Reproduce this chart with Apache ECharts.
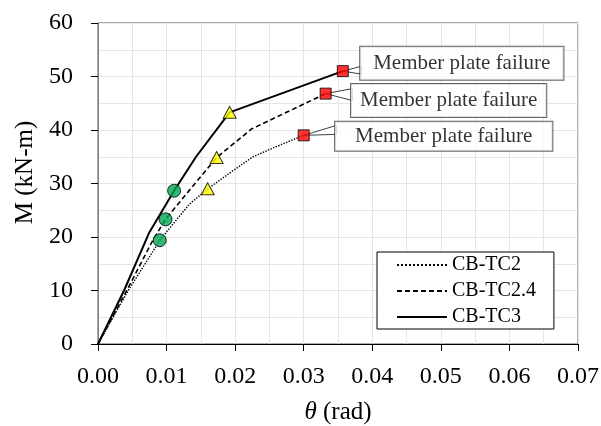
<!DOCTYPE html>
<html>
<head>
<meta charset="utf-8">
<script src="https://cdn.jsdelivr.net/npm/echarts@6/dist/echarts.min.js"></script>
<style>html,body{margin:0;padding:0;background:#fff;}#c{width:601px;height:426px;}</style>
</head>
<body>
<div id="c"></div>
<script>
// Curve data (theta in rad, M in kN-m)
const thetaTC2 = [0, 0.0044, 0.0083, 0.0090, 0.0133, 0.0160, 0.0197, 0.0226, 0.0260, 0.0300];
const momentTC2 = [0, 10, 17.9, 19.4, 26.1, 29.0, 32.4, 35.0, 36.9, 39.0];
const thetaTC24 = [0, 0.0042, 0.0080, 0.00985, 0.0133, 0.0173, 0.0224, 0.0332];
const momentTC24 = [0, 10, 19.4, 23.3, 28.7, 34.85, 40.2, 46.8];
const thetaTC3 = [0, 0.0038, 0.0075, 0.0111, 0.0143, 0.0192, 0.0357];
const momentTC3 = [0, 10, 20.9, 28.65, 35.0, 43.3, 51.0];

// Marker points: [theta, M] for TC2, TC2.4, TC3
const circlePts = [[0.0090, 19.4], [0.00985, 23.3], [0.0111, 28.65]];
const trianglePts = [[0.0160, 29.0], [0.0173, 34.85], [0.0192, 43.3]];
const squarePts = [[0.0300, 39.0], [0.0332, 46.8], [0.0357, 51.0]];
const failureText = 'Member plate failure';

const seriesNames = ['CB-TC2', 'CB-TC2.4', 'CB-TC3'];
const xTicks = [0, 0.01, 0.02, 0.03, 0.04, 0.05, 0.06, 0.07];
const yTicks = [0, 10, 20, 30, 40, 50, 60];

const zip = (a, b) => a.map((v, i) => [v, b[i]]);
const FONT = "'Liberation Serif','Times New Roman',serif";
const CALLOUT_FS = 21;

// callout box layout (offset of box centre from marker, padding, tail span relative to box centre)
const labelLayouts = [
  { offset: [140, 1], padding: [4, 20], tail: [-11, -2] },
  { offset: [123, 7], padding: [6, 9], tail: [-12, 0] },
  { offset: [119, -8], padding: [6, 13], tail: [3, 11] }
];
const mctx = document.createElement('canvas').getContext('2d');
mctx.font = CALLOUT_FS + "px 'Liberation Serif'";
const textW = mctx.measureText(failureText).width;

const chart = echarts.init(document.getElementById('c'), null, { renderer: 'canvas' });
chart.setOption({
  animation: false,
  backgroundColor: '#fff',
  grid: { left: 98, right: 23, top: 23, bottom: 82, show: true, borderColor: '#595959', borderWidth: 1,
    containLabel: false, outerBoundsMode: 'none' },
  xAxis: {
    type: 'value', min: xTicks[0], max: xTicks[xTicks.length - 1], interval: 0.01,
    name: '{i|θ} (rad)', nameLocation: 'middle', nameGap: 56,
    nameTextStyle: { fontFamily: FONT, fontSize: 25, color: '#000',
      rich: { i: { fontFamily: FONT, fontSize: 25, fontStyle: 'italic', color: '#000' } } },
    axisLine: { show: true, lineStyle: { color: '#000', width: 1 } },
    axisTick: { show: true, length: 7, lineStyle: { color: '#000' } },
    axisLabel: { fontFamily: FONT, fontSize: 24, color: '#000', margin: 20.5, formatter: v => v.toFixed(2) },
    splitLine: { show: true, lineStyle: { color: '#e6e6e6', width: 1 } },
    minorTick: { show: false, splitNumber: 2 },
    minorSplitLine: { show: true, lineStyle: { color: '#e6e6e6', width: 1 } }
  },
  yAxis: {
    type: 'value', min: yTicks[0], max: yTicks[yTicks.length - 1], interval: 10,
    name: 'M (kN-m)', nameLocation: 'middle', nameGap: 58,
    nameTextStyle: { fontFamily: FONT, fontSize: 25, color: '#000', padding: [0, 0, 0, 22] },
    axisLine: { show: true, lineStyle: { color: '#7f7f7f', width: 1 } },
    axisTick: { show: true, length: 7, lineStyle: { color: '#000' } },
    axisLabel: { fontFamily: FONT, fontSize: 24, color: '#000', margin: 25 },
    splitLine: { show: true, lineStyle: { color: '#e6e6e6', width: 1 } },
    minorTick: { show: false, splitNumber: 2 },
    minorSplitLine: { show: true, lineStyle: { color: '#e6e6e6', width: 1 } }
  },
  legend: {
    data: seriesNames, orient: 'vertical', left: 377, top: 252,
    itemWidth: 50, itemHeight: 14, itemGap: 6, padding: [3, 18, 2, 19],
    borderColor: '#000', borderWidth: 1, backgroundColor: '#fff',
    itemStyle: { opacity: 0 },
    textStyle: { fontFamily: FONT, fontSize: 20, color: '#000' }, z: 10
  },
  series: [
    { name: seriesNames[0], type: 'line', data: zip(thetaTC2, momentTC2), symbol: 'none',
      lineStyle: { color: '#000', width: 1.4, type: 'dotted' }, itemStyle: { color: '#000' } },
    { name: seriesNames[1], type: 'line', data: zip(thetaTC24, momentTC24), symbol: 'none',
      lineStyle: { color: '#000', width: 1.6, type: [5, 3] }, itemStyle: { color: '#000' } },
    { name: seriesNames[2], type: 'line', data: zip(thetaTC3, momentTC3), symbol: 'none',
      lineStyle: { color: '#000', width: 2, type: 'solid' }, itemStyle: { color: '#000' } },
    { type: 'scatter', data: circlePts, symbol: 'circle', symbolSize: 13, z: 5,
      itemStyle: { color: '#00a551', borderColor: '#000', borderWidth: 1 } },
    { type: 'scatter', data: trianglePts, symbol: 'triangle', symbolSize: [13, 12], z: 5,
      itemStyle: { color: '#ffff00', borderColor: '#000', borderWidth: 1 } },
    { type: 'custom', data: squarePts, z: 5, silent: true,
      renderItem: (params, api) => {
        const L = labelLayouts[params.dataIndex];
        const p = api.coord([api.value(0), api.value(1)]);
        const boxW = textW + 2 * L.padding[1];
        const left = p[0] + L.offset[0] - boxW / 2 + 1.5;
        const cy = p[1] + L.offset[1];
        return { type: 'polygon',
          shape: { points: [[p[0], p[1]], [left, cy + L.tail[0]], [left, cy + L.tail[1]]] },
          style: { fill: '#fff', stroke: '#404040', lineWidth: 1 } };
      } },
    { type: 'scatter', data: squarePts.map((p, i) => ({
        value: p,
        label: {
          show: true, position: 'inside', formatter: failureText,
          offset: labelLayouts[i].offset, padding: labelLayouts[i].padding,
          fontFamily: FONT, fontSize: CALLOUT_FS, lineHeight: 21, color: '#000',
          backgroundColor: '#fff', borderColor: '#404040', borderWidth: 1
        }
      })),
      symbol: 'rect', symbolSize: 11, z: 6,
      itemStyle: { color: '#ff0000', borderColor: '#000', borderWidth: 1 } }
  ]
});
</script>
</body>
</html>
